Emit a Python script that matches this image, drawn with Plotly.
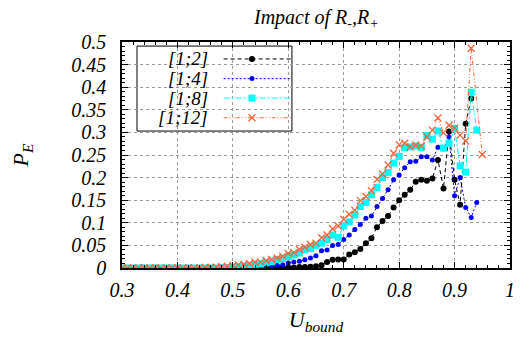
import plotly.graph_objects as go

# ---------------- data ----------------
u_all = [0.30, 0.31, 0.32, 0.33, 0.34, 0.35, 0.36, 0.37, 0.38, 0.39,
         0.40, 0.41, 0.42, 0.43, 0.44, 0.45, 0.46, 0.47, 0.48, 0.49,
         0.50, 0.51, 0.52, 0.53, 0.54, 0.55, 0.56, 0.57, 0.58, 0.59,
         0.60, 0.61, 0.62, 0.63, 0.64, 0.65, 0.66, 0.67, 0.68, 0.69,
         0.70, 0.71, 0.72, 0.73, 0.74, 0.75, 0.76, 0.77, 0.78, 0.79,
         0.80, 0.81, 0.82, 0.83, 0.84, 0.85, 0.86, 0.87, 0.88, 0.89,
         0.90, 0.91, 0.92, 0.93, 0.94]
u_orange = [0.30, 0.31, 0.32, 0.33, 0.34, 0.35, 0.36, 0.37, 0.38, 0.39,
            0.40, 0.41, 0.42, 0.43, 0.44, 0.45, 0.46, 0.47, 0.48, 0.49,
            0.50, 0.51, 0.52, 0.53, 0.54, 0.55, 0.56, 0.57, 0.58, 0.59,
            0.60, 0.61, 0.62, 0.63, 0.64, 0.65, 0.66, 0.67, 0.68, 0.69,
            0.70, 0.71, 0.72, 0.73, 0.74, 0.75, 0.76, 0.77, 0.78, 0.79,
            0.80, 0.81, 0.82, 0.83, 0.84, 0.85, 0.86, 0.87, 0.88, 0.89,
            0.90, 0.91, 0.92, 0.93, 0.95]

p_12 = [0, 0, 0, 0, 0, 0, 0, 0, 0, 0,
        0, 0, 0, 0, 0, 0, 0, 0, 0, 0,
        0, 0, 0, 0, 0, 0, 0.000, 0.001, 0.001, 0.001,
        0.001, 0.001, 0.002, 0.002, 0.003, 0.004, 0.006, 0.013, 0.018, 0.019,
        0.019, 0.030, 0.035, 0.042, 0.055, 0.066, 0.090, 0.104, 0.115, 0.134,
        0.150, 0.162, 0.173, 0.191, 0.195, 0.193, 0.198, 0.239, 0.176, 0.302,
        0.195, 0.140, 0.319, 0.375]
p_14 = [0, 0, 0, 0, 0, 0, 0, 0, 0, 0,
        0, 0, 0, 0, 0, 0, 0, 0, 0, 0,
        0, 0, 0, 0, 0.001, 0.002, 0.003, 0.004, 0.006, 0.007,
        0.011, 0.013, 0.015, 0.018, 0.022, 0.027, 0.038, 0.040, 0.050, 0.052,
        0.063, 0.073, 0.085, 0.096, 0.110, 0.115, 0.136, 0.154, 0.173, 0.195,
        0.206, 0.222, 0.235, 0.236, 0.246, 0.246, 0.239, 0.267, 0.264, 0.290,
        0.160, 0.200, 0.134, 0.112, 0.145]
p_18 = [0, 0, 0, 0, 0, 0, 0, 0, 0, 0,
        0, 0, 0, 0, 0, 0, 0, 0, 0.001, 0.001,
        0.002, 0.003, 0.004, 0.005, 0.008, 0.009, 0.012, 0.014, 0.019, 0.021,
        0.025, 0.029, 0.033, 0.040, 0.043, 0.050, 0.055, 0.063, 0.073, 0.068,
        0.093, 0.102, 0.117, 0.136, 0.145, 0.162, 0.178, 0.200, 0.211, 0.232,
        0.247, 0.266, 0.268, 0.270, 0.267, 0.293, 0.285, 0.303, 0.265, 0.276,
        0.309, 0.226, 0.212, 0.389, 0.305]
p_112 = [0, 0, 0, 0, 0, 0, 0, 0, 0, 0,
         0, 0, 0, 0, 0, 0.001, 0.001, 0.002, 0.003, 0.004,
         0.005, 0.007, 0.008, 0.010, 0.013, 0.013, 0.016, 0.019, 0.022, 0.026,
         0.032, 0.034, 0.041, 0.046, 0.052, 0.055, 0.067, 0.073, 0.087, 0.093,
         0.108, 0.119, 0.128, 0.149, 0.158, 0.171, 0.196, 0.208, 0.228, 0.254,
         0.273, 0.276, 0.268, 0.272, 0.270, 0.290, 0.305, 0.332, 0.299, 0.316,
         0.309, 0.294, 0.281, 0.486, 0.251]

labels = ["[1;2]", "[1;4]", "[1;8]", "[1;12]"]
colors = ["#000000", "#0000ff", "#00ffff", "#f4663a"]
x_ticks = [0.3, 0.4, 0.5, 0.6, 0.7, 0.8, 0.9, 1.0]
x_ticktext = ["0.3", "0.4", "0.5", "0.6", "0.7", "0.8", "0.9", "1"]
y_ticks = [0, 0.05, 0.1, 0.15, 0.2, 0.25, 0.3, 0.35, 0.4, 0.45, 0.5]
y_ticktext = ["0", "0.05", "0.1", "0.15", "0.2", "0.25", "0.3", "0.35", "0.4", "0.45", "0.5"]

# ---------------- styles ----------------
FONT = "Liberation Serif, Times New Roman, serif"
dashes = ["4px,3px", "2px,2px", "6px,2px,2px,2px", "4px,2px,1px,2px,1px,2px"]
symbols = ["circle", "circle", "square", "x-thin"]
sizes = [6, 5, 7, 7]
mlw = [0, 0, 0, 1.3]

def it(s):
    return "<i>" + s + "</i>"

series = [(u_all[:len(p_12)], p_12), (u_all, p_14), (u_all, p_18), (u_orange, p_112)]

fig = go.Figure()
for (xs, ys), lab, col, dsh, sym, sz, lw in zip(series, labels, colors, dashes, symbols, sizes, mlw):
    fig.add_trace(go.Scatter(
        x=xs, y=ys, mode="lines+markers", name=lab, showlegend=False,
        line=dict(color=col, width=1, dash=dsh),
        marker=dict(color=col, symbol=sym, size=sz, line=dict(width=lw, color=col)),
        xaxis="x", yaxis="y",
    ))

# gnuplot-style legend (text left, sample right) on overlay axes
row_y = [0.925, 0.838, 0.752, 0.665]
for lab, col, dsh, sym, sz, lw, ry in zip(labels, colors, dashes, symbols, sizes, mlw, row_y):
    fig.add_trace(go.Scatter(
        x=[0.262, 0.335, 0.435], y=[ry, ry, ry], mode="lines+markers", showlegend=False,
        line=dict(color=col, width=1, dash=dsh),
        marker=dict(color=col, symbol=sym, size=sz, opacity=[0, 1, 0],
                    line=dict(width=lw, color=col)),
        xaxis="x2", yaxis="y2", hoverinfo="skip",
    ))
    fig.add_annotation(x=0.227, y=ry, xref="paper", yref="paper", text=it(lab),
                       showarrow=False, xanchor="right", yanchor="middle",
                       font=dict(family=FONT, size=19, color="black"))

fig.add_shape(type="rect", xref="paper", yref="paper", x0=0.0387, x1=0.438, y0=0.606, y1=0.982,
              line=dict(color="black", width=1), fillcolor="white", layer="between")

# title
fig.add_annotation(x=0.5, y=1, xref="paper", yref="paper", yanchor="bottom", xanchor="center",
                   yshift=9, showarrow=False,
                   text=it("Impact of R<sub>-</sub>,R<sub>+</sub>"),
                   font=dict(family=FONT, size=20, color="black"))

axis_common = dict(
    showline=True, linecolor="black", linewidth=1.5, mirror="ticks",
    ticks="inside", ticklen=6, tickcolor="black", tickwidth=1,
    showgrid=True, gridcolor="#9a9a9a", griddash="dot", gridwidth=1,
    zeroline=False, automargin=False,
    tickfont=dict(family=FONT, size=20, color="black", style="italic"),
)

# page body has an 8px default margin -> compensate in figure size / margins
fig.update_layout(
    width=513, height=331,
    margin=dict(l=114, r=11, t=34, b=71),
    font=dict(family=FONT, size=20, color="black", style="italic"),
    paper_bgcolor="white", plot_bgcolor="white",
    xaxis=dict(range=[0.3, 1.0], tickvals=x_ticks, ticktext=[it(t) for t in x_ticktext],
               minor=dict(dtick=0.02, ticks="inside", ticklen=3, tickcolor="black", showgrid=False),
               ticklabelstandoff=3,
               title=dict(text=it("U<sub>bound</sub>"), standoff=12,
                          font=dict(family=FONT, size=22, color="black")),
               **axis_common),
    yaxis=dict(range=[0, 0.5], tickvals=y_ticks, ticktext=[it(t) for t in y_ticktext],
               minor=dict(dtick=0.01, ticks="inside", ticklen=3, tickcolor="black", showgrid=False),
               ticklabelstandoff=10,
               title=dict(text=it("P<sub>E</sub>"), standoff=44,
                          font=dict(family=FONT, size=22, color="black")),
               **axis_common),
    xaxis2=dict(range=[0, 1], overlaying="x", visible=False, fixedrange=True),
    yaxis2=dict(range=[0, 1], overlaying="y", visible=False, fixedrange=True),
)

fig.write_html("out.html")
